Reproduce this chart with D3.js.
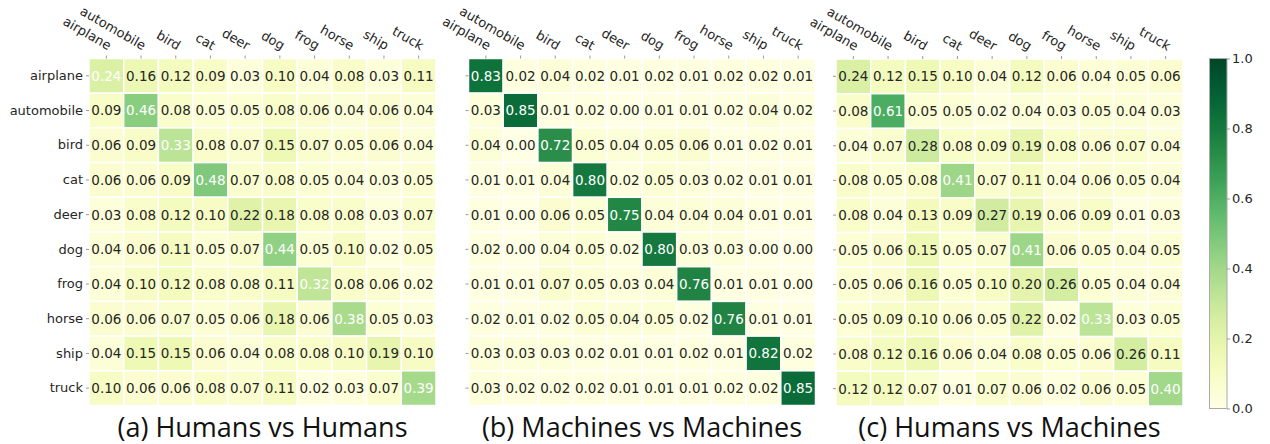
<!DOCTYPE html>
<html>
<head>
<meta charset="utf-8">
<script src="https://cdn.jsdelivr.net/npm/d3@7"></script>
<style>
  body { margin: 0; background: #fff; }
  svg { display: block; }
  .tick text { font-family: "DejaVu Sans", sans-serif; font-size: 13px; fill: #262626; }
  .tick line { stroke: #999; }
  .domain { display: none; }
  .cell-label { font-family: "DejaVu Sans", sans-serif; font-size: 13.5px; }
  .panel-title { font-family: "Open Sans", sans-serif; font-size: 27px; fill: #111; }
</style>
</head>
<body>
<div id="chart"></div>
<script>
// class names
const classes = ["airplane", "automobile", "bird", "cat", "deer", "dog", "frog", "horse", "ship", "truck"];

// (a) Humans vs Humans
const humansHumans = [
  [0.24, 0.16, 0.12, 0.09, 0.03, 0.10, 0.04, 0.08, 0.03, 0.11],
  [0.09, 0.46, 0.08, 0.05, 0.05, 0.08, 0.06, 0.04, 0.06, 0.04],
  [0.06, 0.09, 0.33, 0.08, 0.07, 0.15, 0.07, 0.05, 0.06, 0.04],
  [0.06, 0.06, 0.09, 0.48, 0.07, 0.08, 0.05, 0.04, 0.03, 0.05],
  [0.03, 0.08, 0.12, 0.10, 0.22, 0.18, 0.08, 0.08, 0.03, 0.07],
  [0.04, 0.06, 0.11, 0.05, 0.07, 0.44, 0.05, 0.10, 0.02, 0.05],
  [0.04, 0.10, 0.12, 0.08, 0.08, 0.11, 0.32, 0.08, 0.06, 0.02],
  [0.06, 0.06, 0.07, 0.05, 0.06, 0.18, 0.06, 0.38, 0.05, 0.03],
  [0.04, 0.15, 0.15, 0.06, 0.04, 0.08, 0.08, 0.10, 0.19, 0.10],
  [0.10, 0.06, 0.06, 0.08, 0.07, 0.11, 0.02, 0.03, 0.07, 0.39]
];

// (b) Machines vs Machines
const machinesMachines = [
  [0.83, 0.02, 0.04, 0.02, 0.01, 0.02, 0.01, 0.02, 0.02, 0.01],
  [0.03, 0.85, 0.01, 0.02, 0.00, 0.01, 0.01, 0.02, 0.04, 0.02],
  [0.04, 0.00, 0.72, 0.05, 0.04, 0.05, 0.06, 0.01, 0.02, 0.01],
  [0.01, 0.01, 0.04, 0.80, 0.02, 0.05, 0.03, 0.02, 0.01, 0.01],
  [0.01, 0.00, 0.06, 0.05, 0.75, 0.04, 0.04, 0.04, 0.01, 0.01],
  [0.02, 0.00, 0.04, 0.05, 0.02, 0.80, 0.03, 0.03, 0.00, 0.00],
  [0.01, 0.01, 0.07, 0.05, 0.03, 0.04, 0.76, 0.01, 0.01, 0.00],
  [0.02, 0.01, 0.02, 0.05, 0.04, 0.05, 0.02, 0.76, 0.01, 0.01],
  [0.03, 0.03, 0.03, 0.02, 0.01, 0.01, 0.02, 0.01, 0.82, 0.02],
  [0.03, 0.02, 0.02, 0.02, 0.01, 0.01, 0.01, 0.02, 0.02, 0.85]
];

// (c) Humans vs Machines
const humansMachines = [
  [0.24, 0.12, 0.15, 0.10, 0.04, 0.12, 0.06, 0.04, 0.05, 0.06],
  [0.08, 0.61, 0.05, 0.05, 0.02, 0.04, 0.03, 0.05, 0.04, 0.03],
  [0.04, 0.07, 0.28, 0.08, 0.09, 0.19, 0.08, 0.06, 0.07, 0.04],
  [0.08, 0.05, 0.08, 0.41, 0.07, 0.11, 0.04, 0.06, 0.05, 0.04],
  [0.08, 0.04, 0.13, 0.09, 0.27, 0.19, 0.06, 0.09, 0.01, 0.03],
  [0.05, 0.06, 0.15, 0.05, 0.07, 0.41, 0.06, 0.05, 0.04, 0.05],
  [0.05, 0.06, 0.16, 0.05, 0.10, 0.20, 0.26, 0.05, 0.04, 0.04],
  [0.05, 0.09, 0.10, 0.06, 0.05, 0.22, 0.02, 0.33, 0.03, 0.05],
  [0.08, 0.12, 0.16, 0.06, 0.04, 0.08, 0.05, 0.06, 0.26, 0.11],
  [0.12, 0.12, 0.07, 0.01, 0.07, 0.06, 0.02, 0.06, 0.05, 0.40]
];

const panelTitles = ["(a) Humans vs Humans", "(b) Machines vs Machines", "(c) Humans vs Machines"];
const colorbarTicks = [0, 0.2, 0.4, 0.6, 0.8, 1.0];

const width = 1270, height = 444;
const gridSize = 347;
// panel origins and white-text cut-offs
const panels = [
  {data: humansHumans, x: 89, y: 58.5, rowLabels: true, whiteAbove: 0.23},
  {data: machinesMachines, x: 468.5, y: 58.5, rowLabels: false, whiteAbove: 0.5},
  {data: humansMachines, x: 836, y: 59, rowLabels: false, whiteAbove: 0.3}
];

const svg = d3.select("#chart")
  .append("svg")
    .attr("width", width)
    .attr("height", height);

const color = d3.scaleSequential(d3.interpolateYlGn).domain([0, 1]);

const x = d3.scaleBand().domain(classes).range([0, gridSize]);
const y = d3.scaleBand().domain(classes).range([0, gridSize]);

panels.forEach((p, pi) => {
  const g = svg.append("g")
    .attr("transform", `translate(${p.x}, ${p.y})`);

  const cells = [];
  p.data.forEach((row, i) => row.forEach((v, j) => cells.push({r: classes[i], c: classes[j], v: v})));

  g.selectAll("rect")
    .data(cells)
    .join("rect")
      .attr("x", d => x(d.c))
      .attr("y", d => y(d.r))
      .attr("width", x.bandwidth())
      .attr("height", y.bandwidth())
      .attr("fill", d => color(d.v))
      .attr("stroke", "#fff")
      .attr("stroke-width", 1.5);

  g.selectAll(".cell-label")
    .data(cells)
    .join("text")
      .attr("class", "cell-label")
      .attr("x", d => x(d.c) + x.bandwidth() / 2)
      .attr("y", d => y(d.r) + y.bandwidth() / 2)
      .attr("text-anchor", "middle")
      .attr("dy", "0.36em")
      .attr("fill", d => d.v > p.whiteAbove ? "#fff" : "#262626")
      .text(d => d.v.toFixed(2));

  // top axis with rotated class names
  g.append("g")
    .call(d3.axisTop(x).tickSize(3).tickPadding(4))
    .selectAll("text")
      .attr("text-anchor", "end")
      .attr("transform", "translate(-2, -2) rotate(30)");

  // left axis, labels only on the first panel
  const left = g.append("g")
    .call(d3.axisLeft(y).tickSize(3).tickPadding(3));
  if (!p.rowLabels) left.selectAll("text").remove();

  svg.append("text")
    .attr("class", "panel-title")
    .attr("x", p.x + gridSize / 2)
    .attr("y", 437)
    .attr("text-anchor", "middle")
    .text(panelTitles[pi]);
});

// colorbar
const cbX = 1209.5, cbY = 58.5, cbW = 17.5, cbH = 350;
const defs = svg.append("defs");
const grad = defs.append("linearGradient")
  .attr("id", "cbGrad")
  .attr("x1", 0).attr("y1", 1).attr("x2", 0).attr("y2", 0);
d3.range(0, 1.0001, 0.05).forEach(t => {
  grad.append("stop").attr("offset", t).attr("stop-color", color(t));
});

svg.append("rect")
  .attr("x", cbX).attr("y", cbY)
  .attr("width", cbW).attr("height", cbH)
  .attr("fill", "url(#cbGrad)")
  .attr("stroke", "#aaa")
  .attr("stroke-width", 1);

const cbScale = d3.scaleLinear().domain([0, 1]).range([cbY + cbH, cbY]);
svg.append("g")
  .attr("transform", `translate(${cbX + cbW}, 0)`)
  .call(d3.axisRight(cbScale).tickValues(colorbarTicks).tickFormat(d3.format(".1f")).tickSize(3).tickPadding(2));
</script>
</body>
</html>
